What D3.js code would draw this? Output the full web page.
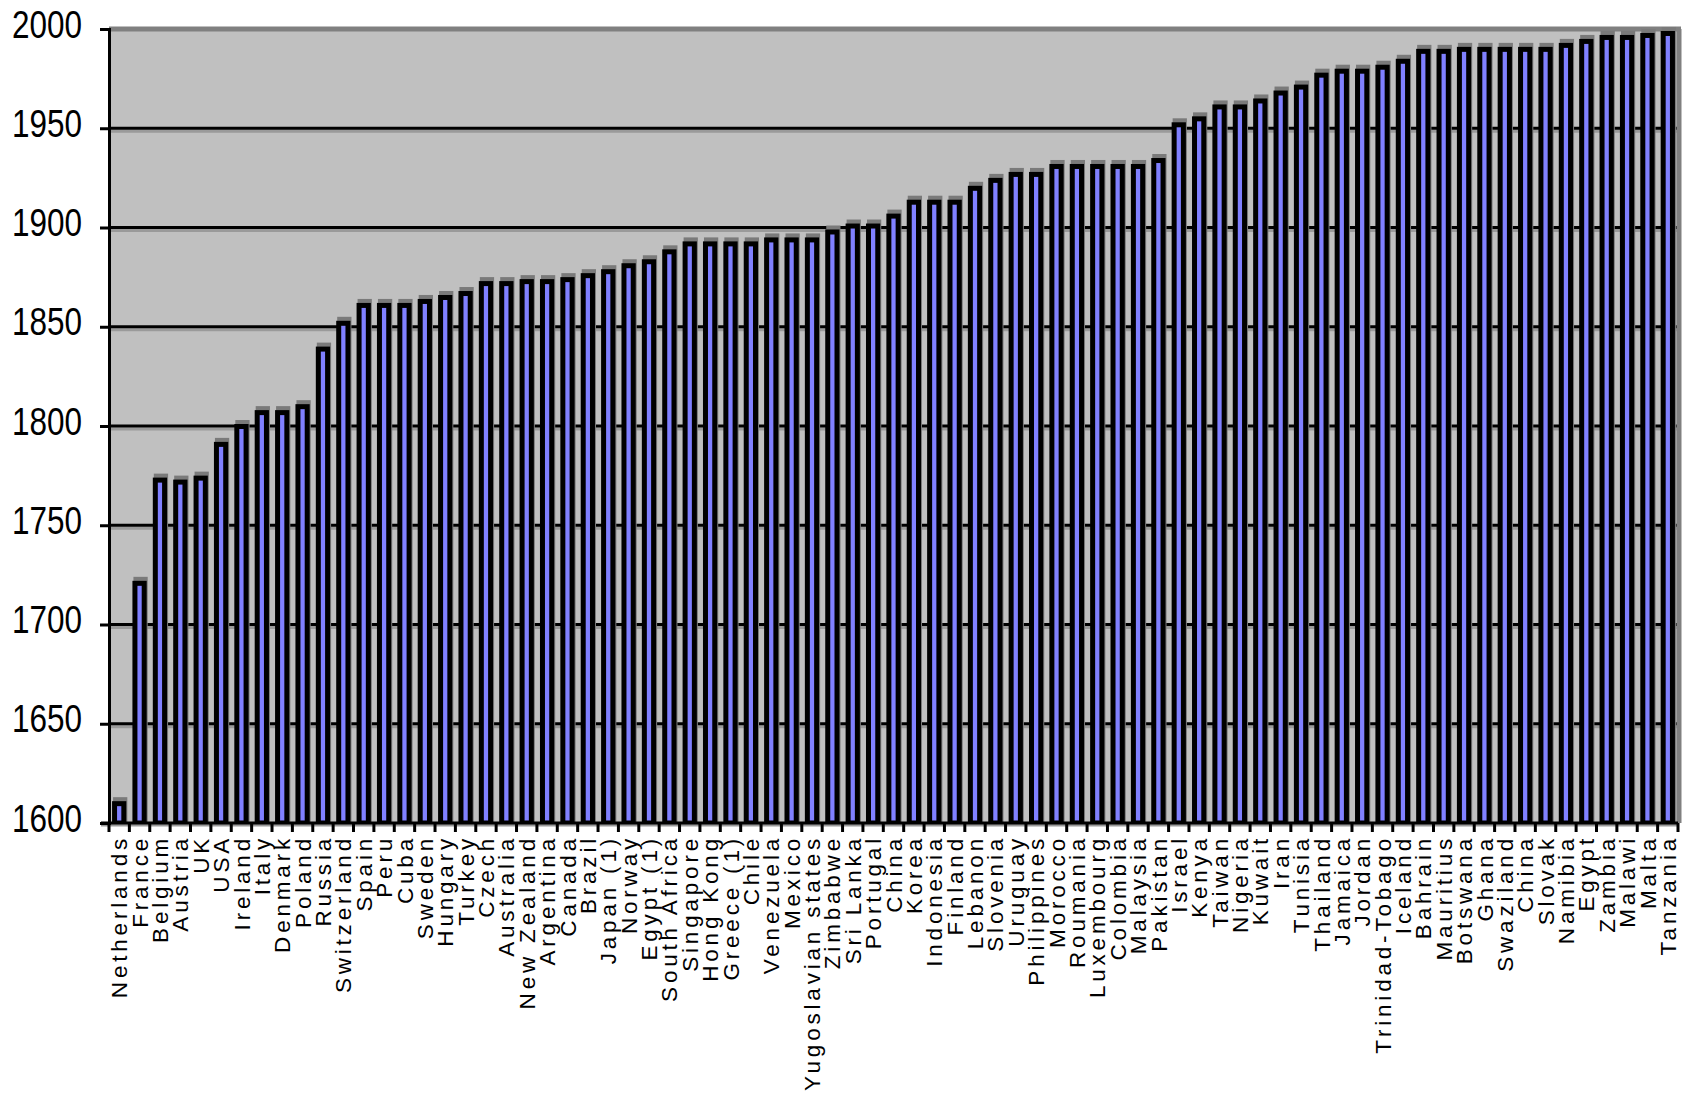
<!DOCTYPE html>
<html>
<head>
<meta charset="utf-8">
<script src="https://cdn.jsdelivr.net/npm/d3@7"></script>
<style>
  html, body { margin: 0; padding: 0; background: #ffffff; }
  svg { display: block; }
  text { font-family: "Liberation Sans", Arial, sans-serif; fill: #000; }
</style>
</head>
<body>
<svg id="chart" width="1686" height="1102"></svg>
<script>
const categories = ["Netherlands","France","Belgium","Austria","UK","USA","Ireland","Italy","Denmark","Poland",
  "Russia","Switzerland","Spain","Peru","Cuba","Sweden","Hungary","Turkey","Czech","Australia",
  "New Zealand","Argentina","Canada","Brazil","Japan (1)","Norway","Egypt (1)","South Africa","Singapore","Hong Kong",
  "Greece (1)","Chile","Venezuela","Mexico","Yugoslavian states","Zimbabwe","Sri Lanka","Portugal","China","Korea",
  "Indonesia","Finland","Lebanon","Slovenia","Uruguay","Philippines","Morocco","Roumania","Luxembourg","Colombia",
  "Malaysia","Pakistan","Israel","Kenya","Taiwan","Nigeria","Kuwait","Iran","Tunisia","Thailand",
  "Jamaica","Jordan","Trinidad-Tobago","Iceland","Bahrain","Mauritius","Botswana","Ghana","Swaziland","China",
  "Slovak","Namibia","Egypt","Zambia","Malawi","Malta","Tanzania"];
const values = [1611,1722,1774,1773,1775,1792,1801,1808,1808,1811,
  1840,1853,1862,1862,1862,1864,1866,1868,1873,1873,
  1874,1874,1875,1877,1879,1882,1884,1889,1893,1893,
  1893,1893,1895,1895,1895,1899,1902,1902,1907,1914,
  1914,1914,1921,1925,1928,1928,1932,1932,1932,1932,
  1932,1935,1953,1956,1962,1962,1965,1969,1972,1978,
  1980,1980,1982,1985,1990,1990,1991,1991,1991,1991,
  1991,1993,1995,1997,1997,1998,1999];
const yTicks = [1600,1650,1700,1750,1800,1850,1900,1950,2000];

const svg = d3.select("#chart");
const L = 109, R = 1678, T = 29, B = 823;

const x = d3.scaleBand().domain(d3.range(categories.length)).range([L, R]).paddingInner(0.3).paddingOuter(0.15);
const y = d3.scaleLinear().domain([1600, 2000]).range([B, T]);

// plot background
svg.append("rect").attr("x", L).attr("y", T).attr("width", R - L).attr("height", B - T).attr("fill", "#c0c0c0");

// gridlines with shadow
const grid = svg.append("g");
yTicks.filter(t => t > 1600 && t < 2000).forEach(t => {
  grid.append("line").attr("x1", L).attr("x2", R).attr("y1", y(t) + 3).attr("y2", y(t) + 3)
    .attr("stroke", "#9a9a9a").attr("stroke-width", 3);
  grid.append("line").attr("x1", L).attr("x2", R).attr("y1", y(t)).attr("y2", y(t))
    .attr("stroke", "#000").attr("stroke-width", 3);
});
// top and right border (gray)
svg.append("line").attr("x1", L).attr("x2", R + 3).attr("y1", T).attr("y2", T).attr("stroke", "#808080").attr("stroke-width", 5);
svg.append("line").attr("x1", R + 1).attr("x2", R + 1).attr("y1", T).attr("y2", B).attr("stroke", "#808080").attr("stroke-width", 5);

// bars
const bars = svg.append("g");
categories.forEach((c, i) => {
  const bx = x(i), bw = x.bandwidth(), by = y(values[i]);
  bars.append("rect").attr("x", bx + 1).attr("y", by - 4).attr("width", bw).attr("height", B - by + 4)
    .attr("fill", "#7a7a7a");
  bars.append("rect").attr("x", bx + 2.5).attr("y", by + 2.5).attr("width", bw - 5).attr("height", B - by - 2.5)
    .attr("fill", "#8080ff").attr("stroke", "#000").attr("stroke-width", 5);
});

// bottom axis line
svg.append("line").attr("x1", L - 8).attr("x2", R).attr("y1", B + 2).attr("y2", B + 2).attr("stroke", "#9a9a9a").attr("stroke-width", 3);
svg.append("line").attr("x1", L - 8).attr("x2", R).attr("y1", B).attr("y2", B).attr("stroke", "#000").attr("stroke-width", 3);

// y axis
const yAxis = d3.axisLeft(y).tickValues(yTicks).tickSize(9).tickPadding(18).tickFormat(d3.format("d"));
const ya = svg.append("g").attr("transform", `translate(${L},0)`).call(yAxis);
ya.select(".domain").attr("stroke", "#000").attr("stroke-width", 3);
ya.selectAll(".tick line").attr("stroke", "#000").attr("stroke-width", 3);
ya.selectAll(".tick text").attr("font-size", 38).attr("dy", "0.32em").attr("y", -4)
  .attr("textLength", 70).attr("lengthAdjust", "spacingAndGlyphs").attr("fill", "#000")
  .style("font-family", "'Liberation Sans', Arial, sans-serif");

// x axis: ticks at category boundaries, labels rotated
const xa = svg.append("g");
for (let i = 0; i <= categories.length; i++) {
  const tx = L + (R - L) * i / categories.length;
  xa.append("line").attr("x1", tx).attr("x2", tx).attr("y1", B).attr("y2", B + 9).attr("stroke", "#000").attr("stroke-width", 3);
}
categories.forEach((c, i) => {
  const cx = x(i) + x.bandwidth() / 2;
  xa.append("text").attr("transform", `translate(${cx},${B + 12}) rotate(-90)`)
    .attr("text-anchor", "end").attr("dy", "0.36em")
    .attr("font-size", 22.5).attr("letter-spacing", 3.8)
    .text(c);
});
</script>
</body>
</html>
